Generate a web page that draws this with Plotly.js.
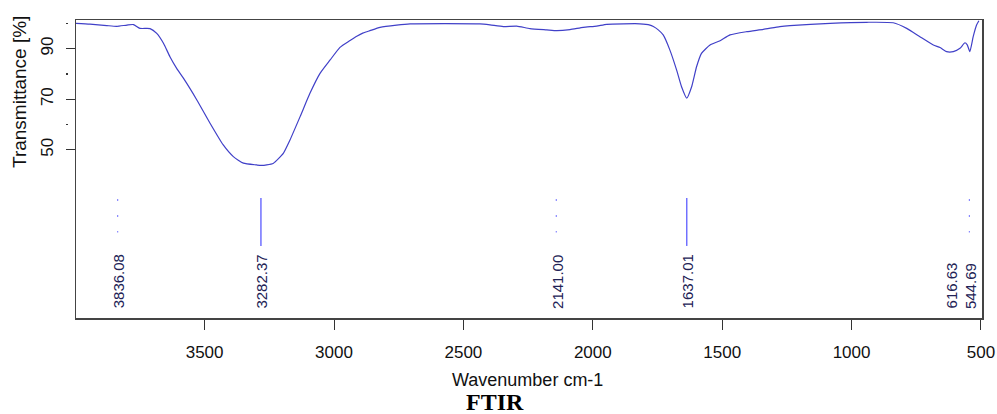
<!DOCTYPE html>
<html>
<head>
<meta charset="utf-8">
<script src="https://cdn.plot.ly/plotly-3.0.1.min.js"></script>
<style>html,body{margin:0;padding:0;background:#fff;}#chart{width:997px;height:414px;}</style>
</head>
<body>
<div id="chart"></div>
<script>
// Spectrum
var wavenumber = [3997,3943,3878,3840,3800,3775,3750,3711,3685,3659,3634,3608,3582,3530,3479,3428,3389,3350,3299,3282,3260,3234,3196,3170,3131,3093,3054,3015,2977,2938,2912,2887,2861,2822,2758,2706,2436,2397,2346,2294,2243,2178,2139,2088,2037,1985,1946,1818,1779,1766,1747,1728,1702,1676,1657,1637,1618,1599,1580,1547,1508,1470,1405,1341,1277,1238,1083,942,839,787,736,684,658,633,607,581,562,553,543,530,517,508];
var transmittance = [100,99.7,99.1,98.8,99.3,99.5,98.0,97.9,96.0,92.1,86.8,82.2,78.3,69.7,60.5,51.9,47.3,44.7,44.0,43.8,44.0,44.7,48.6,53.9,63.1,72.3,80.2,85.5,90.5,93.2,94.9,96.2,97.1,98.4,99.3,99.8,99.8,99.4,98.7,98.9,97.9,97.4,97.1,97.5,98.4,98.9,99.6,99.8,99.3,98.7,97.4,95.4,89.4,81.5,74.9,70.4,74.9,82.8,88.1,91.4,93.1,95.4,96.7,97.6,98.7,99.1,100,100.4,100.2,98.0,94.7,91.4,90.4,88.8,88.8,90.1,92.3,91.5,88.8,94.7,99.3,101];

// Peak annotations
var peaks = [3836.08, 3282.37, 2141.00, 1637.01, 616.63, 544.69];
var peakLabels = ["3836.08", "3282.37", "2141.00", "1637.01", "616.63", "544.69"];
var peakMark = ["dotted", "solid", "dotted", "solid", "none", "dotted"];

// Axis ticks
var xTicks = [3500, 3000, 2500, 2000, 1500, 1000, 500];
var yTicks = [50, 70, 90];
var yMinorTicks = [60, 80, 100];

var ML = 66, MR = 15, MT = 20, MB = 96;
var PW = 997 - ML - MR, PH = 414 - MT - MB;
function px2paperX(px){ return (px - ML) / PW; }
function px2paperY(py){ return (414 - MB - py) / PH; }

var traces = [
  {x: wavenumber, y: transmittance, type: 'scatter', mode: 'lines',
   line: {color: '#4040c8', width: 1.2, shape: 'spline', smoothing: 0.5},
   hoverinfo: 'skip', showlegend: false},
  {x: [wavenumber[0]], y: [transmittance[0]], yaxis: 'y2', type: 'scatter', mode: 'lines',
   line: {color: 'rgba(0,0,0,0)'}, hoverinfo: 'skip', showlegend: false}
];

var shapes = [];
var annotations = [];
for (var i = 0; i < peaks.length; i++) {
  if (peakMark[i] === 'solid') {
    shapes.push({type: 'line', xref: 'x', yref: 'y', x0: peaks[i], x1: peaks[i], y0: 30.95, y1: 11.98,
      line: {color: '#7070ff', width: 1.5}});
  } else if (peakMark[i] === 'dotted') {
    shapes.push({type: 'line', xref: 'x', yref: 'y', x0: peaks[i], x1: peaks[i], y0: 30.55, y1: 17.3,
      line: {color: '#8888ff', width: 1.2, dash: '2px,14px'}});
  }
  annotations.push({x: peaks[i], y: -13.6, xref: 'x', yref: 'y', text: peakLabels[i],
    textangle: -90, showarrow: false, yanchor: 'bottom', xanchor: 'center', xshift: 1,
    font: {family: 'Liberation Sans, Arial, sans-serif', size: 15, color: '#222255'}});
}

annotations.push({xref: 'paper', yref: 'paper', x: px2paperX(19), y: px2paperY(92),
  text: 'Transmittance [%]', textangle: -90, showarrow: false, xanchor: 'center', yanchor: 'middle',
  font: {family: 'Liberation Sans, Arial, sans-serif', size: 19, color: '#111'}});
annotations.push({xref: 'paper', yref: 'paper', x: px2paperX(527), y: px2paperY(380),
  text: 'Wavenumber cm-1', showarrow: false, xanchor: 'center', yanchor: 'middle',
  font: {family: 'Liberation Sans, Arial, sans-serif', size: 18, color: '#111'}});
annotations.push({xref: 'paper', yref: 'paper', x: px2paperX(495), y: px2paperY(402),
  text: '<b>FTIR</b>', showarrow: false, xanchor: 'center', yanchor: 'middle',
  font: {family: 'Liberation Serif, Times New Roman, serif', size: 24, color: '#000'}});

var tickFont = {family: 'Liberation Sans, Arial, sans-serif', size: 17, color: '#111'};

var layout = {
  width: 997, height: 414,
  margin: {l: ML, r: MR, t: MT, b: MB, pad: 0},
  paper_bgcolor: '#fff', plot_bgcolor: '#fff',
  showlegend: false,
  xaxis: {
    domain: [10 / PW, 1], range: [3997, 496], tickmode: 'array', tickvals: xTicks,
    ticktext: xTicks.map(String), ticks: 'outside', ticklen: 10, tickwidth: 1, tickcolor: '#333',
    showline: true, mirror: true, linecolor: '#444', linewidth: 1.5,
    showgrid: false, zeroline: false, tickfont: tickFont, ticklabelstandoff: 8
  },
  yaxis: {
    anchor: 'x', range: [-16.5, 101.3], tickmode: 'array', tickvals: yTicks,
    ticktext: yTicks.map(String), tickangle: -90, ticks: 'outside', ticklen: 9, tickwidth: 1, tickcolor: '#333',
    showline: true, mirror: true, linecolor: '#444', linewidth: 1.5,
    showgrid: false, zeroline: false, tickfont: tickFont, ticklabelstandoff: 6
  },
  yaxis2: {
    overlaying: 'y', anchor: 'free', position: 2 / PW, side: 'left', range: [-16.5, 101.3],
    tickmode: 'array', tickvals: yMinorTicks, ticks: 'outside', ticklen: 2, tickwidth: 1.5, tickcolor: '#333',
    showticklabels: false, showline: false, showgrid: false, zeroline: false
  },
  shapes: shapes,
  annotations: annotations
};

Plotly.newPlot('chart', traces, layout, {displayModeBar: false, staticPlot: true});
</script>
</body>
</html>
